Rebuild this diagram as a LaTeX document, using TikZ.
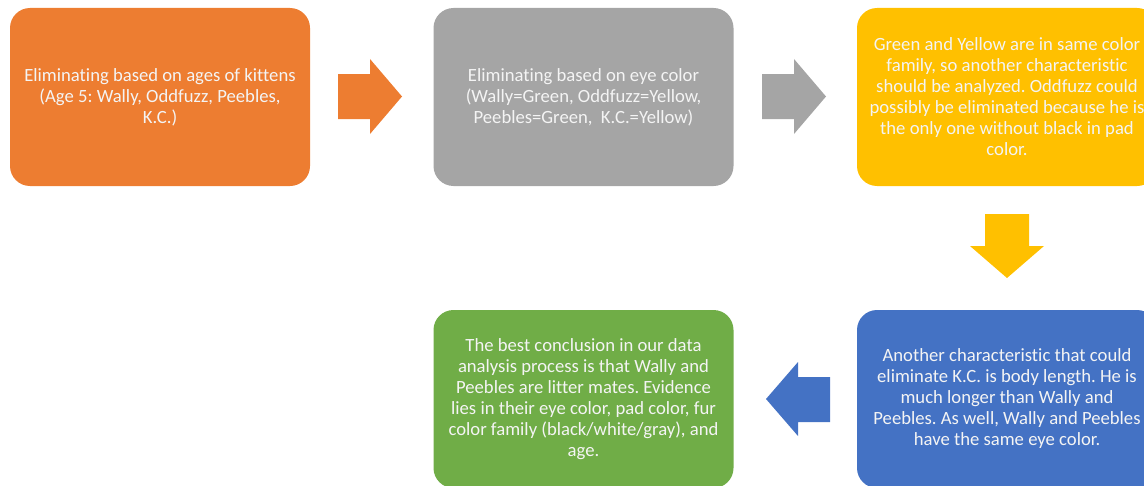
\documentclass[tikz,border=0pt]{standalone}
\usepackage{fontspec}
\setmainfont{Carlito}[Ligatures=NoCommon]
\frenchspacing
\definecolor{cOrange}{HTML}{ED7D31}
\definecolor{cGray}{HTML}{A5A5A5}
\definecolor{cYellow}{HTML}{FFC000}
\definecolor{cBlue}{HTML}{4472C4}
\definecolor{cGreen}{HTML}{70AD47}
\definecolor{cText}{HTML}{F4F4F4}
\begin{document}
\begin{tikzpicture}[x=0.75pt,y=-0.75pt,
  box/.style={rounded corners=15pt, minimum width=225pt, minimum height=133.5pt,
    inner sep=0pt, align=center, text=cText,
    font=\fontsize{14}{15.75}\selectfont\frenchspacing}]
\useasboundingbox (0,0) rectangle (1144,485);
\clip (0,0) rectangle (1144,485);
\node[box, fill=cOrange] (o) at (160,97) {Eliminating based on ages of kittens\\(Age 5: Wally, Oddfuzz, Peebles,\\K.C.)};
\node[box, fill=cGray] (g) at (583.5,97) {Eliminating based on eye color\\(Wally=Green, Oddfuzz=Yellow,\\Peebles=Green,\ \ K.C.=Yellow)};
\node[box, fill=cYellow] (y) at (1007,97) {Green and Yellow are in same color\\family, so another characteristic\\should be analyzed. Oddfuzz could\\possibly be eliminated because he is\\the only one without black in pad\\color.};
\node[box, fill=cBlue] (b) at (1007,399) {Another characteristic that could\\eliminate K.C. is body length. He is\\much longer than Wally and\\Peebles. As well, Wally and Peebles\\have the same eye color.};
\node[box, fill=cGreen] (gr) at (583.5,399) {The best conclusion in our data\\analysis process is that Wally and\\Peebles are litter mates. Evidence\\lies in their eye color, pad color, fur\\color family (black/white/gray), and\\age.};
% block arrows
\fill[cOrange] (338,74) -- (370,74) -- (370,59) -- (402,96.5) -- (370,134) -- (370,119) -- (338,119) -- cycle;
\fill[cGray] (762,74) -- (794,74) -- (794,59) -- (826,96.5) -- (794,134) -- (794,119) -- (762,119) -- cycle;
\fill[cYellow] (985,214) -- (1029,214) -- (1029,246) -- (1044,246) -- (1007,278) -- (970,246) -- (985,246) -- cycle;
\fill[cBlue] (830,377) -- (798,377) -- (798,362) -- (766,399) -- (798,436) -- (798,422) -- (830,422) -- cycle;
\end{tikzpicture}
\end{document}
